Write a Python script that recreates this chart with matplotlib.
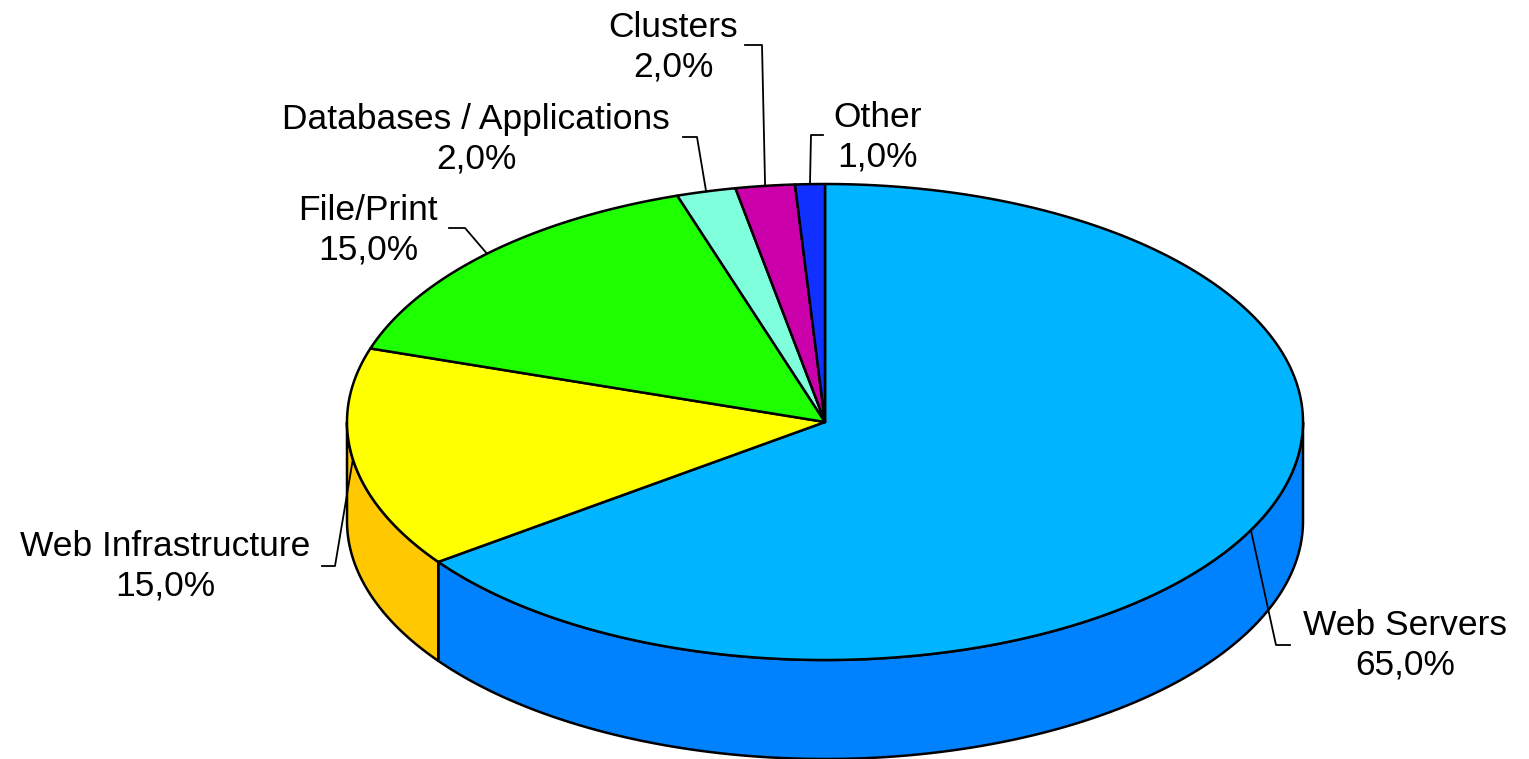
import numpy as np
from matplotlib import pyplot as plt
from matplotlib.patches import Polygon

# data
labels = ['Web Servers', 'Web Infrastructure', 'File/Print',
          'Databases / Applications', 'Clusters', 'Other']
shares = [65.0, 15.0, 15.0, 2.0, 2.0, 1.0]
top_colors = ['#00B4FF', '#FFFF00', '#1EFF00', '#80FFDC', '#CC00AA', '#1030FF']
side_colors = ['#0082FF', '#FFC800', '#14C800', '#60D0B0', '#990080', '#0820C0']

# layout (pixels, y measured from the top of the picture)
W, H = 1529, 759
cx, cy = 825, 422
rx, ry = 478, 238
depth = 99
text_pos = [(1405, 645), (165, 566), (368, 230), (476, 139), (673, 47), (878, 137)]
elbows = [((1276, 645), (1290, 645)), ((335, 566), (322, 566)),
          ((465, 228), (449, 228)), ((697, 137), (683, 137)),
          ((762, 45), (745, 45)), ((811, 135), (823, 135))]


def ell(t, dz=0):
    t = np.radians(t)
    return np.column_stack([cx + rx * np.cos(t), cy - ry * np.sin(t) + dz])


fig = plt.figure(figsize=(W / 100, H / 100), dpi=100)
ax = fig.add_axes([0, 0, 1, 1])
ax.set_xlim(0, W)
ax.set_ylim(H, 0)
ax.axis('off')

vals = np.array(shares) / sum(shares)
ends = np.cumsum(vals)
starts = ends - vals
t2s = 90 - starts * 360
t1s = 90 - ends * 360

# side walls (only the front half is visible)
for t1, t2, c in zip(t1s, t2s, side_colors):
    for k in (-1, 0, 1):
        a = max(t1 + 360 * k, 180)
        b = min(t2 + 360 * k, 360)
        if b <= a:
            continue
        t = np.linspace(a, b, 200)
        pts = np.vstack([ell(t), ell(t[::-1], depth)])
        ax.add_patch(Polygon(pts, closed=True, fc=c, ec='black', lw=1.8, joinstyle='round'))

# top faces
for t1, t2, c in zip(t1s, t2s, top_colors):
    t = np.linspace(t1, t2, 400)
    pts = np.vstack([[cx, cy], ell(t)])
    ax.add_patch(Polygon(pts, closed=True, fc=c, ec='black', lw=1.8, joinstyle='round'))

# labels with leader lines
for lab, v, t1, t2, tp, (e1, e2) in zip(labels, shares, t1s, t2s, text_pos, elbows):
    p = ell(np.array([(t1 + t2) / 2]))[0]
    ax.plot([p[0], e1[0], e2[0]], [p[1], e1[1], e2[1]], color='black', lw=1.3)
    pct = ('%.1f%%' % v).replace('.', ',')
    ax.text(tp[0], tp[1], lab + '\n' + pct,
            ha='center', va='center', multialignment='center',
            fontsize=25.5, family='Liberation Sans', linespacing=1.25)

fig.savefig('out.png', dpi=100)
